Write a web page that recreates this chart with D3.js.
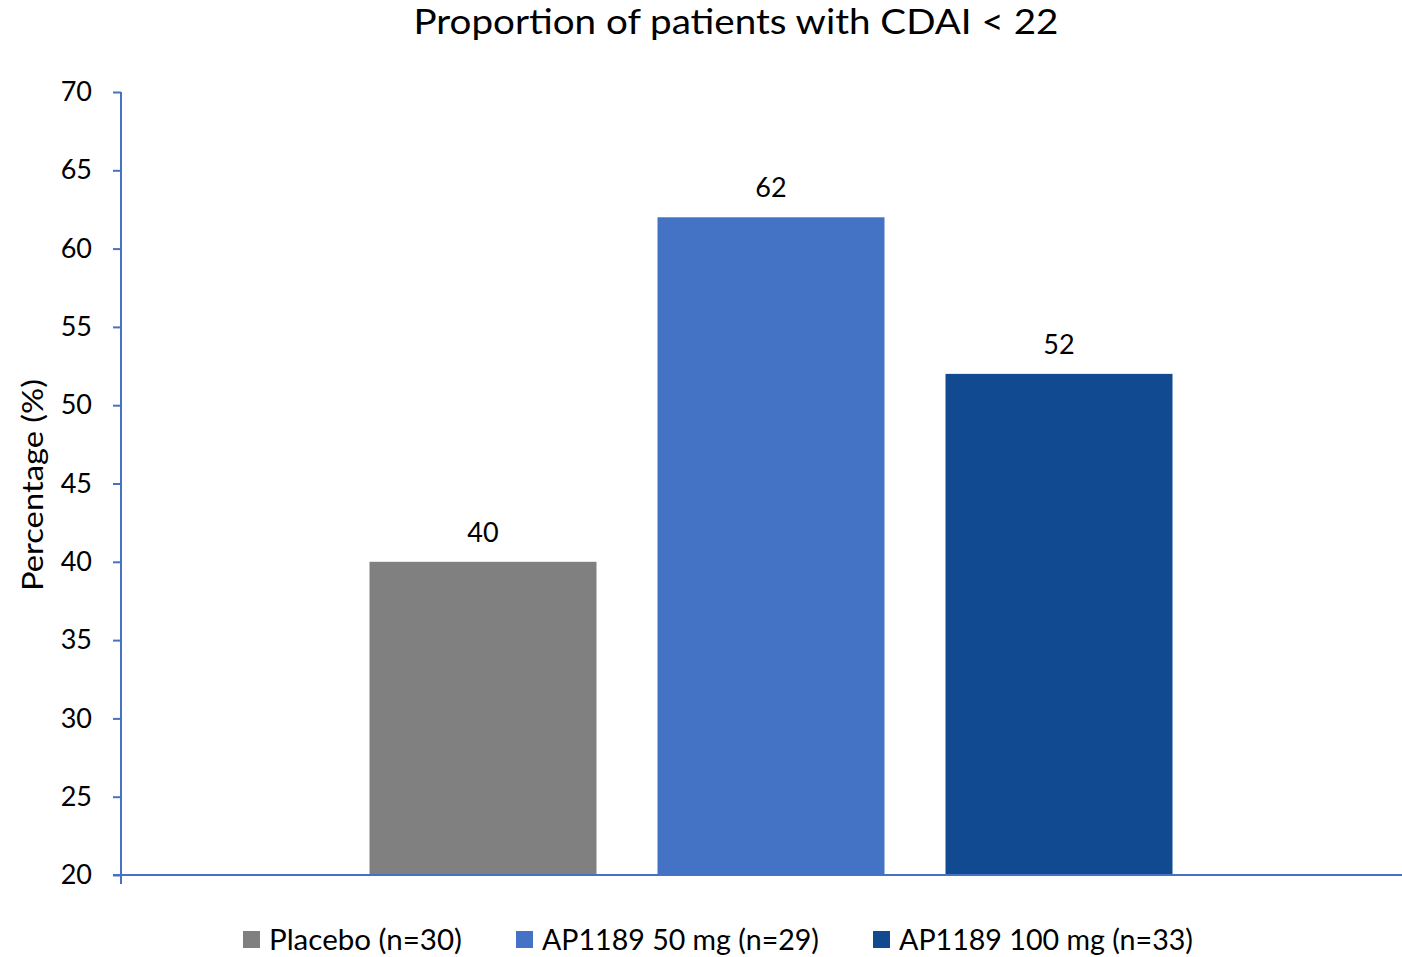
<!DOCTYPE html>
<html>
<head>
<meta charset="utf-8">
<script src="https://cdn.jsdelivr.net/npm/d3@7"></script>
<style>
  html, body { margin: 0; padding: 0; background: #fff; }
  svg { display: block; font-family: Lato, "Open Sans", sans-serif; }
</style>
</head>
<body>
<svg id="chart" width="1402" height="957"></svg>
<script>
// Proportion of patients reaching CDAI < 22, by treatment arm
const groups = ["Placebo (n=30)", "AP1189 50 mg (n=29)", "AP1189 100 mg (n=33)"];
const percentages = [40, 62, 52];
const groupColors = ["#808080", "#4472C4", "#124A91"];
const yTicks = [20, 25, 30, 35, 40, 45, 50, 55, 60, 65, 70];

const svg = d3.select("#chart");
const W = 1402, H = 957;
const plot = { left: 121, right: 1421, top: 92, bottom: 875 };
const axisColor = "#4472C4";

const y = d3.scaleLinear().domain([20, 70]).range([plot.bottom, plot.top]);

// bars are clustered around the centre of the plot area
const step = 288, barW = 227;
const clusterW = step * (groups.length - 1) + barW;
const cx = (plot.left + plot.right) / 2;
const x = d3.scaleBand()
  .domain(groups)
  .range([cx - clusterW / 2, cx + clusterW / 2])
  .paddingInner((step - barW) / step)
  .paddingOuter(0);

// title
svg.append("text")
  .attr("x", 736).attr("y", 34)
  .attr("text-anchor", "middle")
  .attr("font-size", 34)
  .attr("fill", "#000")
  .attr("textLength", 645).attr("lengthAdjust", "spacingAndGlyphs")
  .text("Proportion of patients with CDAI < 22");

// bars
svg.append("g").selectAll("rect")
  .data(groups)
  .join("rect")
  .attr("x", d => x(d))
  .attr("width", x.bandwidth())
  .attr("y", (d, i) => y(percentages[i]))
  .attr("height", (d, i) => y(20) - y(percentages[i]))
  .attr("fill", (d, i) => groupColors[i]);

// value labels
svg.append("g").selectAll("text")
  .data(groups)
  .join("text")
  .attr("x", d => x(d) + x.bandwidth() / 2)
  .attr("y", (d, i) => y(percentages[i]) - 20)
  .attr("text-anchor", "middle")
  .attr("font-size", 27)
  .attr("fill", "#000")
  .text((d, i) => percentages[i]);

// y axis
const yAxis = d3.axisLeft(y).tickValues(yTicks).tickSize(8).tickPadding(21);
const gy = svg.append("g")
  .attr("transform", `translate(${plot.left},0)`)
  .call(yAxis);
gy.select(".domain").remove();
gy.selectAll(".tick line").attr("stroke", axisColor).attr("stroke-width", 2);
gy.selectAll(".tick text")
  .attr("font-size", 27)
  .attr("font-family", "Lato, 'Open Sans', sans-serif")
  .attr("fill", "#000");
svg.append("line")
  .attr("x1", plot.left).attr("x2", plot.left)
  .attr("y1", plot.top).attr("y2", plot.bottom + 9)
  .attr("stroke", axisColor).attr("stroke-width", 2);

// x axis baseline
svg.append("line")
  .attr("x1", plot.left - 8).attr("x2", W)
  .attr("y1", y(20)).attr("y2", y(20))
  .attr("stroke", axisColor).attr("stroke-width", 2);

// y axis title
svg.append("text")
  .attr("transform", `translate(43,485) rotate(-90)`)
  .attr("text-anchor", "middle")
  .attr("font-size", 28)
  .attr("fill", "#000")
  .attr("textLength", 212).attr("lengthAdjust", "spacingAndGlyphs")
  .text("Percentage (%)");

// legend
const legendX = [243, 516, 873];
const legendTextW = [193, 277, 294];
const legend = svg.append("g").selectAll("g")
  .data(groups)
  .join("g")
  .attr("transform", (d, i) => `translate(${legendX[i]},931)`);
legend.append("rect")
  .attr("width", 17).attr("height", 17)
  .attr("fill", (d, i) => groupColors[i]);
legend.append("text")
  .attr("x", 26).attr("y", 19)
  .attr("font-size", 28)
  .attr("fill", "#000")
  .attr("textLength", (d, i) => legendTextW[i])
  .attr("lengthAdjust", "spacingAndGlyphs")
  .text(d => d);
</script>
</body>
</html>
